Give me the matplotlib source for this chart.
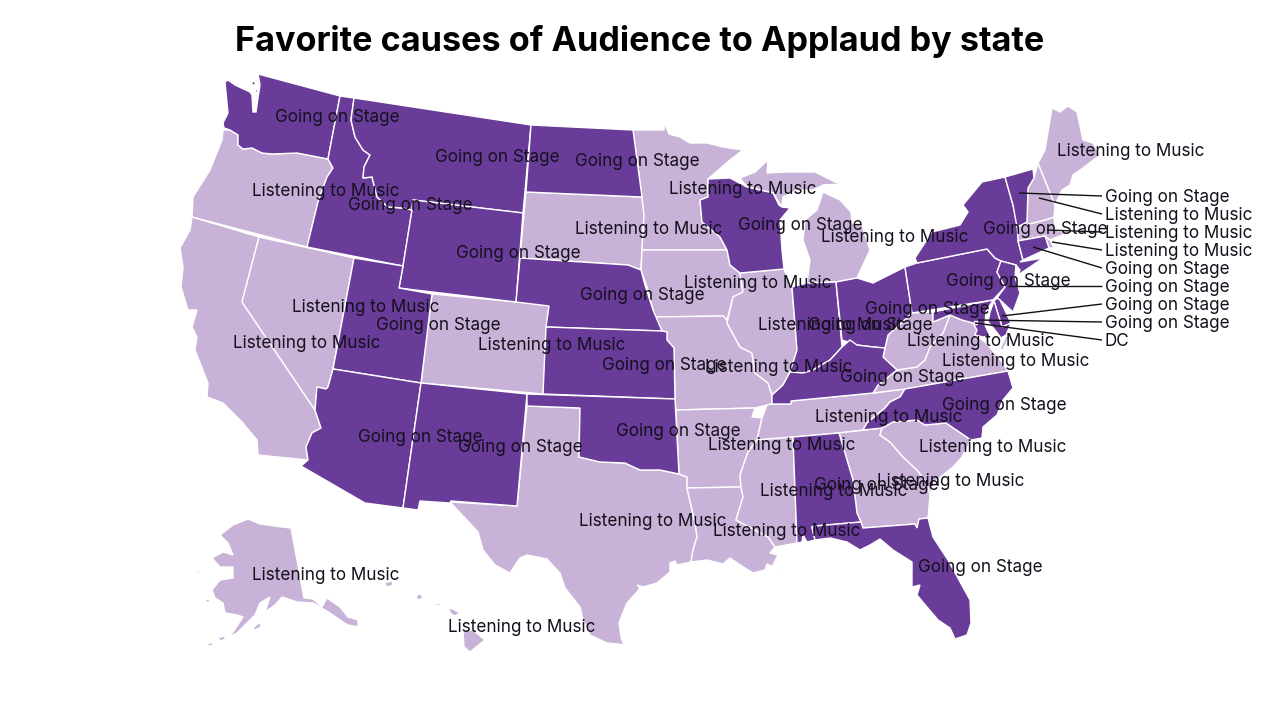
import matplotlib
matplotlib.use('Agg')
import matplotlib.pyplot as plt
from matplotlib.patches import Polygon

# Config
DARK = '#693c99'
LIGHT = '#c9b2d7'
TEXT = '#14101c'
FONT = 'Inter'
STAGE = 'Going on Stage'
MUSIC = 'Listening to Music'

# State outlines in image pixels
WA = [(258,74),(340,96),(328,159),(297,153),(272,154),(262,153),(252,148),(243,149),(238,145),(238,135),(230,130),(224,128),(223,123),(228,113),(227,103),(225,82),(228,80),(235,85),(250,92),(252,95),(253,112),(256,112),(258,98),(260,85)]
WA_ISLE1 = [(252,82),(255,81),(255,85),(252,85)]
WA_ISLE2 = [(255,89),(257,89),(257,92),(255,92)]
OR = [(223,130),(230,130),(238,135),(238,145),(243,149),(252,148),(262,153),(272,154),(297,153),(328,159),(333,168),(327,177),(318,202),(307,247),(192,217),(193,197),(210,170),(222,140)]
CA = [(192,217),(259,237),(242,302),(315,410),(321,428),(312,433),(306,447),(308,460),(258,455),(257,440),(242,422),(223,403),(207,397),(208,383),(195,350),(197,337),(192,327),(197,310),(188,310),(181,287),(183,267),(180,248),(190,230)]
NV = [(259,237),(354,258),(333,369),(328,387),(326,389),(317,387),(315,410),(242,302)]
ID = [(340,96),(354,98),(351,120),(355,137),(363,150),(370,155),(364,167),(363,178),(372,177),(377,197),(388,207),(403,208),(412,210),(403,266),(307,247),(318,202),(327,177),(333,168),(328,159)]
MT = [(354,98),(531,125),(523,213),(413,200),(412,210),(403,208),(388,207),(377,197),(372,177),(363,178),(364,167),(370,155),(363,150),(355,137),(351,120)]
WY = [(412,210),(413,200),(523,213),(516,302),(399,288),(403,266)]
UT = [(354,258),(403,266),(399,288),(432,294),(421,383),(333,369)]
CO = [(432,294),(549,305),(543,394),(421,383)]
AZ = [(333,369),(421,383),(403,508),(365,503),(301,466),(308,460),(306,447),(312,433),(321,428),(315,410),(317,387),(326,389),(328,387)]
NM = [(421,383),(527,394),(517,506),(451,501),(450,503),(420,501),(418,510),(403,508)]
ND = [(531,125),(633,130),(642,197),(526,192)]
SD = [(526,192),(642,197),(644,215),(642,250),(641,270),(628,265),(520,258)]
NE = [(520,258),(628,265),(641,270),(645,285),(653,310),(662,331),(546,327),(549,306),(516,302)]
KS = [(546,327),(662,331),(667,332),(667,340),(674,348),(675,399),(543,394)]
OK = [(527,394),(675,399),(679,474),(660,470),(640,470),(625,463),(600,462),(579,457),(580,408),(527,406)]
TX = [(527,406),(580,408),(579,457),(600,462),(625,463),(640,470),(660,470),(679,474),(687,477),(687,488),(695,523),(697,537),(693,550),(691,562),(677,565),(675,561),(670,563),(670,572),(657,583),(643,587),(637,585),(640,588),(637,592),(627,603),(622,615),(619,623),(621,637),(624,645),(618,644),(607,643),(590,635),(583,620),(580,607),(565,588),(560,573),(547,559),(527,555),(520,558),(510,573),(495,565),(483,550),(478,532),(465,518),(450,502),(517,506)]
MN = [(633,130),(664,130),(664,122),(669,134),(680,137),(690,143),(707,143),(723,147),(743,150),(730,160),(708,179),(708,197),(700,200),(702,222),(720,237),(727,250),(642,250),(644,215),(642,197)]
IA = [(642,250),(727,250),(730,265),(740,273),(743,292),(733,297),(727,320),(723,316),(655,317),(647,287),(641,270)]
MO = [(655,317),(723,316),(727,320),(727,323),(740,347),(752,353),(755,373),(768,383),(772,395),(772,404),(767,405),(755,408),(676,410),(675,399),(674,348),(667,340),(667,332),(662,331)]
AR = [(676,410),(755,408),(752,417),(762,418),(757,440),(748,452),(740,475),(741,487),(687,488),(687,477),(679,474)]
LA = [(687,488),(741,487),(743,497),(736,520),(768,537),(775,547),(770,553),(778,555),(773,565),(785,572),(767,564),(765,570),(753,573),(745,568),(730,558),(723,564),(707,560),(691,562),(693,550),(697,537),(695,523)]
WI = [(708,179),(730,178),(747,187),(773,193),(779,205),(782,207),(790,208),(780,220),(782,250),(784,269),(740,273),(730,265),(727,250),(720,237),(702,222),(700,200),(708,197)]
IL = [(740,273),(784,269),(792,287),(797,350),(790,372),(783,385),(772,395),(768,383),(755,373),(752,353),(740,347),(727,323),(733,297),(743,292)]
MI_UP = [(740,178),(755,172),(768,160),(767,173),(787,172),(815,172),(835,182),(843,184),(823,185),(813,190),(797,190),(783,197),(782,207),(773,193),(747,187)]
MI_LP = [(823,192),(840,200),(851,212),(852,223),(862,225),(870,250),(857,278),(836,282),(807,283),(810,260),(803,240),(805,220),(817,210)]
IN = [(792,287),(807,283),(836,282),(842,347),(830,360),(813,370),(803,373),(790,372),(797,350)]
OH = [(836,282),(857,278),(873,283),(905,267),(912,313),(897,327),(888,335),(885,348),(873,347),(857,345),(842,340)]
KY = [(772,404),(772,395),(783,385),(790,372),(803,373),(813,370),(830,360),(842,347),(850,340),(857,345),(873,347),(885,348),(883,357),(897,370),(878,385),(873,393),(791,401),(791,404)]
TN = [(762,418),(767,405),(772,404),(791,404),(791,401),(873,393),(905,389),(900,397),(890,402),(885,408),(867,423),(863,430),(839,433),(793,437),(757,440)]
MS = [(757,440),(793,437),(797,543),(775,547),(768,537),(736,520),(743,497),(741,487),(740,475),(748,452)]
AL = [(793,437),(839,433),(853,480),(857,513),(861,522),(815,526),(812,527),(815,540),(807,542),(803,535),(802,542),(797,543)]
GA = [(839,433),(882,428),(880,435),(890,442),(903,457),(917,470),(927,483),(930,495),(928,518),(919,519),(917,528),(915,524),(863,528),(861,522),(857,513),(853,480)]
FL = [(815,526),(861,522),(863,528),(915,524),(917,528),(919,519),(928,518),(933,537),(948,560),(970,600),(971,623),(967,635),(955,639),(950,628),(938,620),(927,607),(917,595),(920,585),(912,587),(912,562),(893,550),(880,539),(870,545),(860,550),(847,542),(830,538),(815,540),(812,527)]
SC = [(882,428),(893,422),(917,420),(925,425),(946,423),(971,440),(962,457),(953,467),(933,483),(930,495),(927,483),(917,470),(903,457),(890,442),(880,435)]
NC = [(905,389),(1008,371),(1013,388),(1003,400),(997,415),(983,427),(982,438),(971,440),(946,423),(925,425),(917,420),(893,422),(882,428),(863,430),(867,423),(885,408),(890,402),(900,397)]
VA = [(873,393),(878,385),(897,370),(917,367),(925,360),(930,347),(943,333),(950,315),(962,320),(973,323),(977,330),(975,335),(985,342),(992,350),(1002,362),(1008,371),(905,389)]
VA_SHORE = [(1006,336),(1009,337),(1003,350),(1000,349)]
WV = [(885,348),(888,335),(897,327),(912,313),(933,312),(933,322),(950,315),(943,333),(930,347),(925,360),(917,367),(897,370),(883,357)]
PA = [(905,267),(917,263),(987,249),(995,258),(1001,261),(997,272),(1005,287),(993,300),(912,313)]
NY = [(917,263),(915,258),(932,232),(960,225),(968,212),(963,205),(982,182),(1005,177),(1013,205),(1017,223),(1018,241),(1023,260),(1020,262),(1043,258),(1033,265),(1018,275),(1020,270),(1016,265),(1001,261),(995,258),(987,249)]
NJ = [(1001,261),(1016,265),(1015,277),(1020,293),(1013,312),(1000,300),(997,298),(1005,287),(997,272)]
DE = [(994,301),(997,298),(1000,300),(1011,323),(1002,327)]
MD = [(933,312),(993,300),(986,312),(985,325),(990,336),(983,337),(975,335),(977,330),(973,323),(962,320),(950,315),(933,322)]
MD_EAST = [(994,301),(1002,327),(1011,323),(1006,335),(1001,338),(995,330),(988,322),(990,312)]
DC = [(974,321),(977,321),(977,324),(974,324)]
CT = [(1018,241),(1045,236),(1049,248),(1023,260)]
RI = [(1045,236),(1050,240),(1054,248),(1049,248)]
MA = [(1017,227),(1045,220),(1054,217),(1055,230),(1063,232),(1072,230),(1062,235),(1050,240),(1045,236),(1018,241)]
VT = [(1005,177),(1033,169),(1034,178),(1028,188),(1027,222),(1017,227),(1013,205)]
NH = [(1034,178),(1038,163),(1055,205),(1054,217),(1045,220),(1017,227),(1027,222),(1028,188)]
ME = [(1038,163),(1045,150),(1052,108),(1060,112),(1068,106),(1077,112),(1083,140),(1093,143),(1100,155),(1083,168),(1073,175),(1070,185),(1062,190),(1055,205)]
AK = [(220,535),(233,525),(248,519),(260,524),(282,527),(291,528),(304,598),(313,599),(322,607),(327,598),(340,607),(348,617),(358,620),(358,627),(348,625),(343,622),(330,613),(313,603),(297,602),(282,597),(275,605),(265,612),(270,597),(260,603),(255,615),(247,623),(237,633),(228,637),(233,632),(243,617),(237,615),(225,613),(223,603),(215,598),(212,590),(220,580),(233,578),(233,567),(220,567),(212,558),(223,552),(233,555),(228,543)]
AK_KODIAK = [(253,628),(260,622),(261,627),(255,630)]
AK_ISLE1 = [(205,600),(209,599),(210,602),(206,602)]
AK_ISLE2 = [(195,570),(199,571),(202,574),(198,573)]
AK_ISLE3 = [(218,638),(224,636),(226,639),(220,641)]
AK_ISLE4 = [(207,644),(213,642),(213,645),(208,646)]
HI_KAUAI = [(384,583),(392,581),(393,585),(387,587)]
HI_OAHU = [(416,597),(420,593),(423,598),(418,600)]
HI_MOLOKAI = [(435,603),(440,603),(440,605),(435,605)]
HI_MAUI = [(448,608),(453,609),(460,613),(455,616),(451,614)]
HI_BIG = [(463,632),(473,630),(485,640),(470,652),(464,647)]

going_on_stage = [WA, WA_ISLE1, WA_ISLE2, ID, MT, WY, UT, AZ, NM, ND, NE, KS, OK, WI, IN, OH, KY, AL, FL, NC, PA, NY, NJ, DE, MD, MD_EAST, DC, CT, VT]
listening_to_music = [OR, CA, NV, CO, SD, TX, MN, IA, MO, AR, LA, IL, MI_UP, MI_LP, TN, MS, GA, SC, VA, VA_SHORE, WV, RI, MA, NH, ME,
                      AK, AK_KODIAK, AK_ISLE1, AK_ISLE2, AK_ISLE3, AK_ISLE4,
                      HI_KAUAI, HI_OAHU, HI_MOLOKAI, HI_MAUI, HI_BIG]

# Labels placed on the map
stage_labels = [(337,118),(497,158),(637,162),(410,205),(800,225),(1045,229),(518,253),(1008,282),(642,295),(927,309),(870,325),
                (438,325),(664,365),(902,377),(1004,405),(678,431),(420,437),(520,448),(876,486),(980,568)]
music_labels = [(1131,152),(743,190),(326,192),(649,230),(895,238),(758,284),(366,308),(832,326),(307,344),(552,345),(981,341),
                (1016,361),(779,368),(889,417),(782,445),(993,447),(951,482),(834,492),(653,522),(787,532),(326,576),(522,627)]

# Small states: label, height of the label, point on the state
callout_text = [STAGE, MUSIC, MUSIC, MUSIC, STAGE, STAGE, STAGE, STAGE, 'DC']
callout_y = [196, 214, 232, 250, 268, 286, 304, 322, 340]
callout_from = [(1019,193),(1039,198),(1047,230),(1052,242),(1033,247),(1008,286),(1002,316),(978,320),(975,323)]

fig = plt.figure(figsize=(12.8, 7.2), dpi=100)
ax = fig.add_axes([0, 0, 1, 1])
ax.set_xlim(0, 1280)
ax.set_ylim(720, 0)
ax.axis('off')

for shape in listening_to_music:
    ax.add_patch(Polygon(shape, closed=True, facecolor=LIGHT, edgecolor='white', linewidth=1))
for shape in going_on_stage:
    ax.add_patch(Polygon(shape, closed=True, facecolor=DARK, edgecolor='white', linewidth=1))

for x, y in stage_labels:
    ax.text(x, y, STAGE, ha='center', va='center', fontsize=12.3, family=FONT, color=TEXT)
for x, y in music_labels:
    ax.text(x, y, MUSIC, ha='center', va='center', fontsize=12.3, family=FONT, color=TEXT)

for label, y, start in zip(callout_text, callout_y, callout_from):
    ax.plot([start[0], 1102], [start[1], y], color='#111111', linewidth=1, solid_capstyle='butt')
    ax.text(1105, y + 1, label, ha='left', va='center', fontsize=12.3, family=FONT, color=TEXT)

ax.text(640, 42, 'Favorite causes of Audience to Applaud by state', ha='center', va='center',
        fontsize=24.6, fontweight='bold', family=FONT, color='#000000')

fig.savefig('out.png', dpi=100)
